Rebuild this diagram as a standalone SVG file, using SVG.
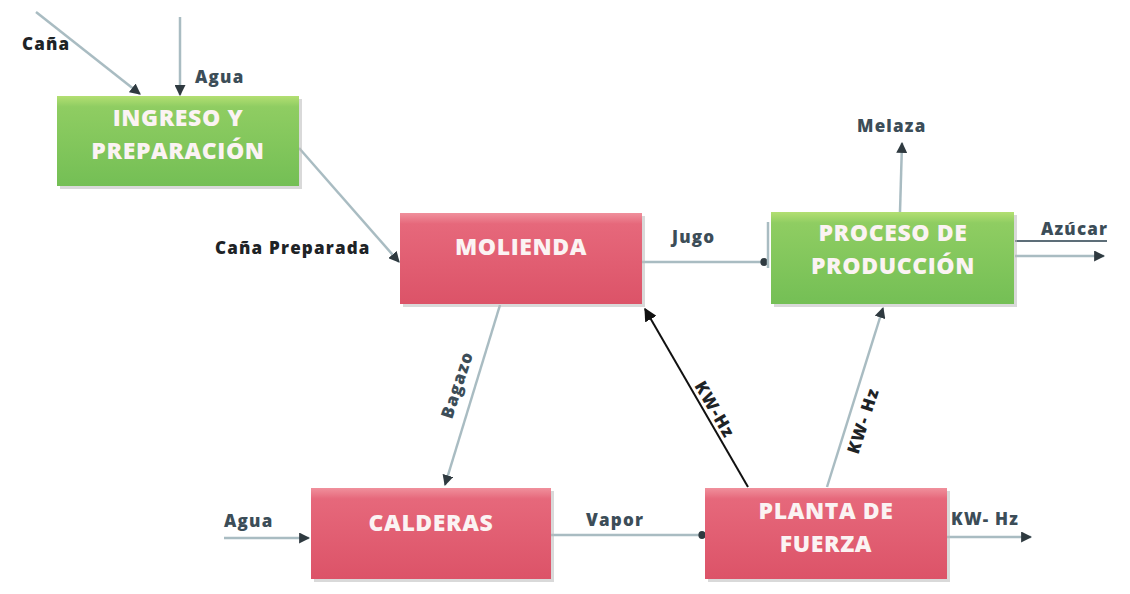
<svg xmlns="http://www.w3.org/2000/svg" width="1130" height="594" viewBox="0 0 1130 594">
<defs>
<linearGradient id="gGreen" x1="0" y1="0" x2="0" y2="1">
<stop offset="0" stop-color="#b3df72"/>
<stop offset="0.12" stop-color="#8fcd62"/>
<stop offset="1" stop-color="#74bf55"/>
</linearGradient>
<linearGradient id="gRed" x1="0" y1="0" x2="0" y2="1">
<stop offset="0" stop-color="#f0909c"/>
<stop offset="0.12" stop-color="#e6687b"/>
<stop offset="1" stop-color="#dc5368"/>
</linearGradient>
<marker id="arr" viewBox="0 0 10 10" refX="9" refY="5" markerWidth="11" markerHeight="11" markerUnits="userSpaceOnUse" orient="auto">
<path d="M0,0 L10,5 L0,10 z" fill="#2f3a40"/>
</marker>
<marker id="arrK" viewBox="0 0 10 10" refX="9" refY="5" markerWidth="13" markerHeight="13" markerUnits="userSpaceOnUse" orient="auto">
<path d="M0,0 L10,5 L0,10 z" fill="#111"/>
</marker>
<marker id="dot" viewBox="0 0 10 10" refX="5" refY="5" markerWidth="8" markerHeight="9" markerUnits="userSpaceOnUse" orient="auto">
<ellipse cx="5" cy="5" rx="4.5" ry="5" fill="#2f3a40"/>
</marker>
</defs>
<style>
.shadow{fill:#b9b9b9;opacity:0.55}
.green{fill:url(#gGreen)}
.red{fill:url(#gRed)}
.bt{font-family:"Open Sans","Liberation Sans",sans-serif;font-weight:800;font-size:23px;letter-spacing:0.6px;fill:#fbf3f3;text-anchor:middle}
.lb{font-family:"Open Sans","Liberation Sans",sans-serif;font-weight:800;font-size:17px;fill:#3c4d58;letter-spacing:1.2px}
.dk{fill:#1e2326}
.cn{fill:none;stroke:#a9bcc2;stroke-width:2.5}
.ck{fill:none;stroke:#111;stroke-width:2}
</style>
<rect width="1130" height="594" fill="#ffffff"/>

<g id="connectors">
<line class="cn" x1="36" y1="12" x2="140" y2="94" marker-end="url(#arr)"/>
<line class="cn" x1="180" y1="17" x2="180" y2="95" marker-end="url(#arr)"/>
<line class="cn" x1="299" y1="148" x2="399" y2="262" marker-end="url(#arr)"/>
<line class="cn" x1="642" y1="262" x2="764" y2="262" marker-end="url(#dot)"/>
<line class="cn" x1="768" y1="222" x2="768" y2="268"/>
<line class="cn" x1="900" y1="212" x2="902" y2="143" marker-end="url(#arr)"/>
<line x1="1015" y1="241" x2="1107" y2="241" stroke="#5d6e78" stroke-width="2"/>
<line class="cn" x1="1015" y1="256" x2="1104" y2="256" marker-end="url(#arr)"/>
<line class="cn" x1="500" y1="305" x2="445" y2="485" marker-end="url(#arr)"/>
<line class="ck" x1="748" y1="487" x2="645" y2="309" marker-end="url(#arrK)"/>
<line class="cn" x1="827" y1="487" x2="883" y2="308" marker-end="url(#arr)"/>
<line class="cn" x1="224" y1="538" x2="309" y2="538" marker-end="url(#arr)"/>
<line class="cn" x1="551" y1="535" x2="702" y2="535" marker-end="url(#dot)"/>
<line class="cn" x1="947" y1="537" x2="1031" y2="537" marker-end="url(#arr)"/>
</g>

<g id="labels">
<text class="lb dk" x="22" y="50">Caña</text>
<text class="lb" x="195" y="83">Agua</text>
<text class="lb dk" x="215" y="254">Caña Preparada</text>
<text class="lb" x="672" y="243">Jugo</text>
<text class="lb" x="857" y="132">Melaza</text>
<text class="lb" x="1041" y="235">Azúcar</text>
<text class="lb" x="0" y="0" text-anchor="middle" transform="translate(458,385) rotate(-72) translate(0,5)">Bagazo</text>
<text class="lb dk" x="0" y="0" text-anchor="middle" transform="translate(714,410) rotate(60) translate(0,5)">KW-Hz</text>
<text class="lb dk" x="0" y="0" text-anchor="middle" transform="translate(864,421) rotate(-72) translate(0,5)">KW- Hz</text>
<text class="lb" x="224" y="527">Agua</text>
<text class="lb" x="586" y="526">Vapor</text>
<text class="lb" x="951" y="525">KW- Hz</text>
</g>

<g id="ingreso">
<rect class="shadow" x="60" y="99" width="242" height="90"/>
<rect class="green" x="57" y="96" width="242" height="90"/>
<text class="bt" x="178" y="126">INGRESO Y</text>
<text class="bt" x="178" y="159">PREPARACIÓN</text>
</g>

<g id="molienda">
<rect class="shadow" x="403" y="216" width="242" height="91"/>
<rect class="red" x="400" y="213" width="242" height="91"/>
<text class="bt" x="521" y="255">MOLIENDA</text>
</g>

<g id="produccion">
<rect class="shadow" x="774" y="215" width="243" height="92"/>
<rect class="green" x="771" y="212" width="243" height="92"/>
<text class="bt" x="893" y="241">PROCESO DE</text>
<text class="bt" x="893" y="274">PRODUCCIÓN</text>
</g>

<g id="calderas">
<rect class="shadow" x="314" y="491" width="240" height="91"/>
<rect class="red" x="311" y="488" width="240" height="91"/>
<text class="bt" x="431" y="531">CALDERAS</text>
</g>

<g id="planta">
<rect class="shadow" x="708" y="491" width="242" height="91"/>
<rect class="red" x="705" y="488" width="242" height="91"/>
<text class="bt" x="826" y="519">PLANTA DE</text>
<text class="bt" x="826" y="552">FUERZA</text>
</g>
</svg>
